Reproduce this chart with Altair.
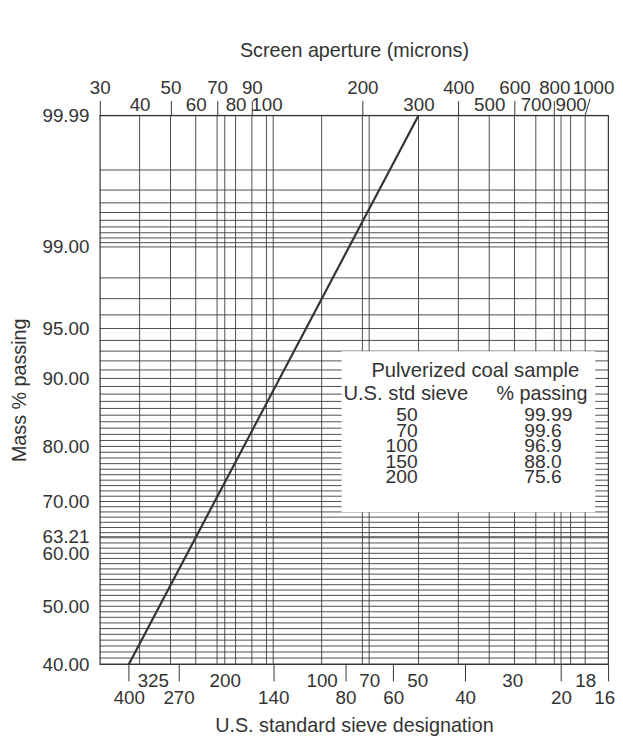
import json
import numpy as np
import pandas as pd
import altair as alt

FONT = "Liberation Sans"
INK = "#333333"
GRIDC = "#3a3a3a"
W, H = 515, 556

# ---------------- data ----------------
# Rosin-Rammler straight line (aperture in microns, mass % passing)
line_aperture_um = [37, 300]
line_mass_passing = [40.0, 99.99]

# Inset table
table_title = "Pulverized coal sample"
table_head_sieve = "U.S. std sieve"
table_head_passing = "% passing"
table_sieve = ["50", "70", "100", "150", "200"]
table_passing = ["99.99", "99.6", "96.9", "88.0", "75.6"]

# Top axis: screen aperture (microns)
top_ticked_um = [30, 50, 70, 90, 200, 400, 600, 800]
top_slanted_um = [1000]
top_unticked_um = [40, 60, 80, 100, 300, 500, 700, 900]

# Bottom axis: U.S. standard sieve designation and its opening (microns)
sieve_ticked_mesh = ["400", "270", "140", "80", "60", "40", "20", "16"]
sieve_ticked_um = [37, 53, 105, 177, 250, 420, 840, 1180]
sieve_unticked_mesh = ["325", "200", "100", "70", "50", "30", "18"]
sieve_unticked_um = [44, 74, 149, 210, 297, 590, 1000]

# Left axis: mass % passing
y_label_pct = [40, 50, 60, 63.21, 70, 80, 90, 95, 99, 99.99]

# Grid
vgrid_um = [40, 50, 60, 70, 74, 80, 90, 100, 105, 149, 200, 210, 300,
            400, 500, 600, 700, 800, 840, 900, 1000]
hgrid_pct = (list(range(40, 100)) + [63.21]
             + [99.1, 99.2, 99.3, 99.4, 99.5, 99.6, 99.7, 99.8, 99.9, 99.99])

x_domain_um = [30, 1180]


# ---------------- helpers ----------------
def rr(p):
    """Rosin-Rammler ordinate: -ln(1 - P)."""
    return float(-np.log(1 - p / 100.0))


y_domain = [rr(min(y_label_pct)), rr(max(y_label_pct))]
y_axis_values = [rr(p) for p in y_label_pct]
YCALC = "-log(1 - datum.pct / 100)"

xscale = alt.Scale(type="log", domain=x_domain_um, nice=False)
yscale = alt.Scale(type="log", domain=y_domain, nice=False)


def lookup(values, labels):
    return f"{json.dumps(labels)}[indexof({json.dumps(values)}, datum.value)]"


common = dict(domain=False, grid=False, labelOverlap=False, labelFlush=False,
              labelBound=False, labelFontSize=19, labelColor=INK, labelFont=FONT,
              tickColor=INK, tickWidth=1)
title_style = dict(titleFontSize=20, titleFontWeight="normal", titleColor=INK,
                   titleFont=FONT, titleAlign="center", titleBaseline="middle")

# the last sieve (at the right edge of the frame) gets its own axis so its
# label can be nudged inside the page
inner_ticked_um, edge_ticked_um = sieve_ticked_um[:-1], sieve_ticked_um[-1:]

top_axis_ticked = alt.Axis(orient="top", values=top_ticked_um, format="d",
                           tickSize=15, labelPadding=3,
                           title="Screen aperture (microns)",
                           titleX=W / 2, titleY=-66, titleAngle=0,
                           **common, **title_style)
top_axis_plain = alt.Axis(orient="top", values=top_unticked_um, format="d",
                          ticks=False, tickSize=0, labelPadding=1, title=None,
                          **common)
top_axis_slant = alt.Axis(orient="top", values=top_slanted_um, format="d",
                          ticks=False, tickSize=0, labelPadding=18,
                          labelOffset=8, title=None, **common)
bottom_axis_ticked = alt.Axis(orient="bottom", values=inner_ticked_um,
                              labelExpr=lookup(sieve_ticked_um, sieve_ticked_mesh),
                              tickSize=17, labelPadding=7.5, labelBaseline="top",
                              title="U.S. standard sieve designation",
                              titleX=W / 2, titleY=62, titleAngle=0,
                              **common, **title_style)
bottom_axis_edge = alt.Axis(orient="bottom", values=edge_ticked_um,
                            labelExpr=lookup(sieve_ticked_um, sieve_ticked_mesh),
                            tickSize=17, labelPadding=7.5, labelBaseline="top",
                            labelOffset=-4, title=None, **common)
bottom_axis_plain = alt.Axis(orient="bottom", values=sieve_unticked_um,
                             labelExpr=lookup(sieve_unticked_um, sieve_unticked_mesh),
                             ticks=False, tickSize=0, labelPadding=7.5,
                             labelBaseline="top", title=None, **common)
left_axis = alt.Axis(orient="left", values=y_axis_values,
                     labelExpr="format(100 * (1 - exp(-datum.value)), '.2f')",
                     ticks=False, tickSize=0, labelPadding=11,
                     labelBaseline="middle",
                     title="Mass % passing", titleX=-81, titleY=H / 2,
                     titleAngle=270, **common, **title_style)

one = pd.DataFrame({"k": [0]})

# ---------------- layers ----------------
hgrid = (alt.Chart(pd.DataFrame({"pct": hgrid_pct}))
         .transform_calculate(yv=YCALC)
         .mark_rule(color=GRIDC, strokeWidth=0.9)
         .encode(y=alt.Y("yv:Q", scale=yscale, axis=left_axis)))

vgrid = (alt.Chart(pd.DataFrame({"um": vgrid_um}))
         .mark_rule(color=GRIDC, strokeWidth=0.9)
         .encode(x=alt.X("um:Q", scale=xscale, axis=top_axis_ticked)))

line = (alt.Chart(pd.DataFrame({"um": line_aperture_um, "pct": line_mass_passing}))
        .transform_calculate(yv=YCALC)
        .mark_line(color=INK, strokeWidth=2.2)
        .encode(x=alt.X("um:Q", scale=xscale, axis=top_axis_plain),
                y=alt.Y("yv:Q", scale=yscale, axis=None)))

slant = (alt.Chart(pd.DataFrame({"um": top_slanted_um}))
         .transform_calculate(um_top="datum.um * 1.036")
         .mark_rule(color=INK, strokeWidth=1)
         .encode(x=alt.X("um:Q", scale=xscale, axis=top_axis_slant),
                 x2="um_top:Q", y=alt.value(0), y2=alt.value(-17)))

carrier_ticked = (alt.Chart(pd.DataFrame({"um": inner_ticked_um}))
                  .mark_point(opacity=0)
                  .encode(x=alt.X("um:Q", scale=xscale, axis=bottom_axis_ticked)))
carrier_edge = (alt.Chart(pd.DataFrame({"um": edge_ticked_um}))
                .mark_point(opacity=0)
                .encode(x=alt.X("um:Q", scale=xscale, axis=bottom_axis_edge)))
carrier_plain = (alt.Chart(pd.DataFrame({"um": sieve_unticked_um}))
                 .mark_point(opacity=0)
                 .encode(x=alt.X("um:Q", scale=xscale, axis=bottom_axis_plain)))

box = (alt.Chart(one).mark_rect(fill="white")
       .encode(x=alt.value(245), x2=alt.value(502), y=alt.value(239), y2=alt.value(402)))

txt = dict(font=FONT, color=INK, baseline="alphabetic")
t_title = alt.Chart(one).mark_text(align="center", fontSize=20.5, **txt).encode(
    x=alt.value(380.5), y=alt.value(264.7), text=alt.value(table_title))
t_h1 = alt.Chart(one).mark_text(align="center", fontSize=20.5, **txt).encode(
    x=alt.value(310), y=alt.value(288), text=alt.value(table_head_sieve))
t_h2 = alt.Chart(one).mark_text(align="center", fontSize=20, **txt).encode(
    x=alt.value(448), y=alt.value(288), text=alt.value(table_head_passing))
t_sieve = alt.Chart(one).mark_text(align="right", lineBreak="\n", lineHeight=15.7,
                                   fontSize=19.5, **txt).encode(
    x=alt.value(322), y=alt.value(310), text=alt.value("\n".join(table_sieve)))
t_pass = alt.Chart(one).mark_text(align="left", lineBreak="\n", lineHeight=15.7,
                                  fontSize=19.5, **txt).encode(
    x=alt.value(430), y=alt.value(310), text=alt.value("\n".join(table_passing)))

chart = (alt.layer(hgrid, vgrid, line, slant, carrier_ticked, carrier_edge,
                   carrier_plain, box, t_title, t_h1, t_h2, t_sieve, t_pass)
         .resolve_axis(x="independent", y="independent")
         .properties(width=W, height=H,
                     autosize=alt.AutoSizeParams(type="none"),
                     padding={"left": 93, "top": 104, "right": 7, "bottom": 71},
                     background="white")
         .configure_view(stroke=INK, strokeWidth=1.2))

chart.save("out.html", embed_options={"renderer": "svg", "actions": False})
